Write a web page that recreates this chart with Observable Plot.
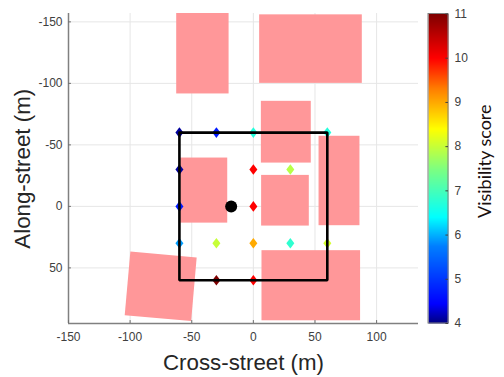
<!DOCTYPE html>
<html><head><meta charset="utf-8">
<script src="https://cdn.jsdelivr.net/npm/d3@7"></script>
<script src="https://cdn.jsdelivr.net/npm/@observablehq/plot@0.6"></script>
<style>
html,body{margin:0;padding:0;background:#fff;overflow:hidden}
#c{position:relative;width:504px;height:377px}
#c svg{position:absolute;left:0;top:0;background:transparent}
</style></head><body><div id="c"></div>
<script>
const xTicks=[-150,-100,-50,0,50,100];
const yTicks=[-150,-100,-50,0,50];
const barTicks=[4,5,6,7,8,9,10,11];
const jetStops=[[4,"#00007f"],[4.44,"#0000ff"],[5.75,"#007fff"],[6.4,"#00ffff"],[7.5,"#7fff7f"],[8.4,"#ffff00"],[9.3,"#ff7f00"],[10,"#ff0000"],[11,"#7f0000"]];
const jetValues=jetStops.map(d=>d[0]);
const jetColors=jetStops.map(d=>d[1]);
const buildings=[
 {x1:-62.2,x2:-19.7,y1:-156.8,y2:-91.4},
 {x1:5.1,x2:88.4,y1:-155.7,y2:-100},
 {x1:6.5,x2:47,y1:-85.4,y2:-35.2},
 {x1:53.3,x2:86.5,y1:-57,y2:15.7},
 {x1:6.7,x2:45.4,y1:-25.2,y2:16},
 {x1:-59,x2:-20.8,y1:-39.3,y2:13.6},
 {x1:7,x2:87,y1:36,y2:93}
];
const rotated=[[-99.8,36.6],[-46,41.5],[-50.5,93.2],[-104.4,88.5],[-99.8,36.6]];
const square=[[-60,-60],[60,-60],[60,60],[-60,60],[-60,-60]];
const px=[-60,-30,0,60,-60,0,30,-60,0,-60,-30,0,30,60,-30,0];
const py=[-60,-60,-60,-60,-30,-30,-30,0,0,30,30,30,30,30,60,60];
const score=[4.1,4.7,6.7,6.7,4.1,10,7.9,4.7,10,5.9,8,9,6.8,8.1,11,10];
const points=px.map((x,i)=>({x,y:py[i],v:score[i]}));
const target=[[-18,0]];
const font="'Liberation Sans',Arial,sans-serif";
const tickColor="#404040";
const colorScale=d3.scaleLinear().domain(jetValues).range(jetColors);
const X0=-150,X1=134,YB=95.2,YT=-156.8;
const wideDiamond={draw(ctx,size){const s=Math.sqrt(size),w=0.58*s,h=0.77*s;ctx.moveTo(0,-h);ctx.lineTo(w,0);ctx.lineTo(0,h);ctx.lineTo(-w,0);ctx.closePath();}};

const main=Plot.plot({
 width:504,height:377,marginLeft:68,marginRight:86,marginTop:13,marginBottom:54,
 style:{fontFamily:font,background:"transparent"},
 x:{domain:[X0,X1]},
 y:{domain:[YB,YT]},
 color:{type:"linear",domain:jetValues,range:jetColors,interpolate:"rgb"},
 marks:[
  Plot.ruleX(xTicks,{stroke:"#e6e6e6",strokeWidth:1}),
  Plot.ruleY(yTicks,{stroke:"#e6e6e6",strokeWidth:1}),
  Plot.rect(buildings,{x1:"x1",x2:"x2",y1:"y1",y2:"y2",fill:"#ff9799"}),
  Plot.line(rotated,{x:d=>d[0],y:d=>d[1],fill:"#ff9799",stroke:"none"}),
  Plot.ruleX([X0],{stroke:"#808080",strokeWidth:1.5}),
  Plot.ruleY([YB],{stroke:"#808080",strokeWidth:1.5}),
  Plot.ruleX(xTicks,{y1:YB,y2:YB-2.4,stroke:"#707070"}),
  Plot.ruleY(yTicks,{x1:X0,x2:X0+2.4,stroke:"#707070"}),
  Plot.dot(points,{x:"x",y:"y",fill:"v",symbol:wideDiamond,r:3.9}),
  Plot.line(square,{x:d=>d[0],y:d=>d[1],stroke:"#000",strokeWidth:2.6,strokeLinejoin:"miter"}),
  Plot.dot(target,{x:d=>d[0],y:d=>d[1],fill:"#000",r:6}),
  Plot.axisX({ticks:xTicks,tickSize:0,tickPadding:9,tickFormat:d=>String(d),fontSize:12,color:tickColor,label:null}),
  Plot.axisY({ticks:yTicks,tickSize:0,tickPadding:6,tickFormat:d=>String(d),fontSize:12,color:tickColor,label:null}),
  Plot.text(["Cross-street (m)"],{frameAnchor:"bottom",x:-8,dy:39,fontSize:22.3,fill:"#262626",lineAnchor:"middle"}),
 ]
});
document.getElementById("c").appendChild(main);

const bar=Plot.plot({
 width:504,height:377,marginLeft:428,marginRight:56,marginTop:13.5,marginBottom:54,
 style:{fontFamily:font,background:"transparent"},
 x:{domain:[0,1],axis:null},
 y:{domain:[4,11]},
 marks:[
  Plot.raster({x1:0,x2:1,y1:4,y2:11,width:1,height:620,fill:(x,y)=>colorScale(y),imageRendering:"auto"}),
  Plot.rect([0],{x1:0,x2:1,y1:4,y2:11,fill:"none",stroke:"#808080"}),
  Plot.ruleY(barTicks,{x1:0.87,x2:1,stroke:"#404040"}),
  Plot.axisY({anchor:"right",ticks:barTicks,tickSize:0,tickPadding:6,tickFormat:d=>String(d),fontSize:12,color:tickColor,label:null}),
  Plot.text(["Visibility score"],{frameAnchor:"right",dx:37,dy:-7.5,rotate:-90,fontSize:18,fontFamily:"Lato,sans-serif",fill:"#1a1010",textAnchor:"middle"}),
  Plot.text(["Along-street (m)"],{frameAnchor:"left",dx:-406,dy:0,rotate:-90,fontSize:22.3,fill:"#262626",textAnchor:"middle"}),
 ]
});
document.getElementById("c").appendChild(bar);
</script></body></html>
